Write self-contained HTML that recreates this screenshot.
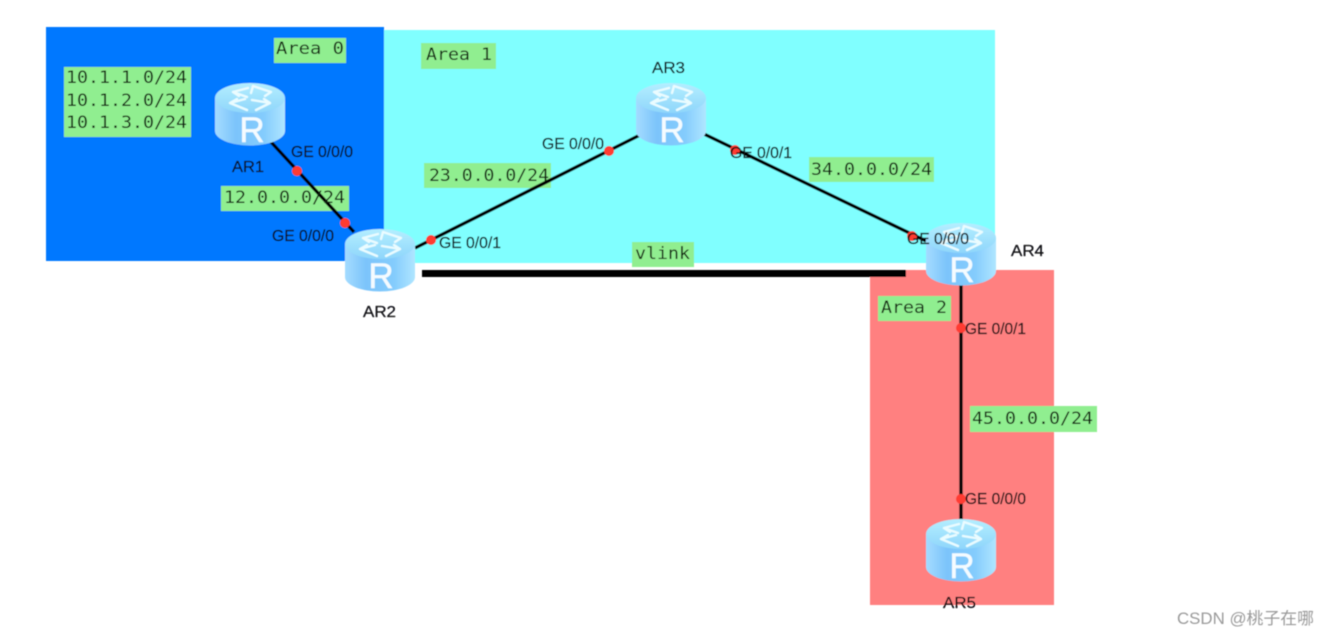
<!DOCTYPE html>
<html lang="zh">
<head>
<meta charset="utf-8">
<title>OSPF vlink diagram</title>
<style>
html,body{margin:0;padding:0;width:1329px;height:637px;overflow:hidden;background:#fff}
svg{display:block}
.m{font-family:"DejaVu Sans Mono","Liberation Mono",monospace;font-size:17px;fill:#10200a}
.a{font-family:"Liberation Sans",Arial,sans-serif;font-size:15.5px;fill:#08080c;stroke:#08080c;stroke-width:.2px}
.r{font-family:"Liberation Sans",Arial,sans-serif;font-size:35px;fill:#f4fbff;stroke:#f4fbff;stroke-width:.5px}
.w{font-family:"Liberation Sans","Noto Sans CJK SC",sans-serif;font-size:16.5px;fill:#9a9a9a}
</style>
</head>
<body>
<svg width="1329" height="637" viewBox="0 0 1329 637" xmlns="http://www.w3.org/2000/svg">
<defs>
<linearGradient id="side" x1="0" x2="1" y1="0" y2="0">
<stop offset="0" stop-color="#a4dcff"/>
<stop offset=".3" stop-color="#7cc4fb"/>
<stop offset=".7" stop-color="#84ccfd"/>
<stop offset="1" stop-color="#b0e6ff"/>
</linearGradient>
<linearGradient id="top" x1="0" x2="0" y1="0" y2="1">
<stop offset="0" stop-color="#b4eeff"/>
<stop offset="1" stop-color="#8fd6fb"/>
</linearGradient>
<g id="router">
<path d="M-35 15V48A35 14.5 0 0 0 35 48V15Z" fill="url(#side)"/>
<ellipse cx="0" cy="15" rx="35" ry="15" fill="url(#top)"/>
<g fill="none" stroke="#eafcff" stroke-width="2.4" stroke-linecap="round" stroke-linejoin="round">
<path d="M-2 5L-17 9L-11 13M-17 9L-3 14"/>
<path d="M3 3L21 9L15 13M3 3L1 10"/>
<path d="M-3 27L-20 20L-13 16M-20 20L-5 16"/>
<path d="M6 27L20 20L14 16M20 20L2 17"/>
</g>
</g>
<filter id="soft" x="-2%" y="-2%" width="104%" height="104%"><feGaussianBlur stdDeviation="0.4"/></filter>
</defs>
<g filter="url(#soft)">
<rect x="384" y="30" width="611" height="233" fill="#80ffff"/>
<rect x="46" y="27" width="338" height="234" fill="#0078ff"/>
<rect x="870" y="270" width="184" height="335" fill="#ff8080"/>

<rect x="274" y="38" width="72" height="25" fill="#90ee90"/>
<rect x="421" y="43" width="75" height="26" fill="#90ee90"/>
<rect x="64" y="67" width="127" height="70" fill="#90ee90"/>
<rect x="221" y="186" width="128" height="25" fill="#90ee90"/>
<rect x="424" y="163" width="127" height="25" fill="#90ee90"/>
<rect x="809" y="157" width="125" height="25" fill="#90ee90"/>
<rect x="632" y="242" width="62" height="25" fill="#90ee90"/>
<rect x="878" y="296" width="73" height="25" fill="#90ee90"/>
<rect x="970" y="406" width="127" height="26" fill="#90ee90"/>

<g stroke="#050505" stroke-width="3.4" fill="none">
<line x1="271" y1="142" x2="354" y2="232"/>
<line x1="415" y1="248" x2="640" y2="135"/>
<line x1="704" y1="134" x2="926" y2="241"/>
<line x1="961" y1="284" x2="961" y2="520"/>
</g>
<rect x="422" y="270" width="484" height="7" fill="#000"/>

<use href="#router" x="250" y="83"/>
<use href="#router" x="380" y="229"/>
<use href="#router" x="671" y="83"/>
<use href="#router" x="961" y="223"/>
<use href="#router" x="961" y="519"/>
<text class="r" x="252" y="142" text-anchor="middle">R</text>
<text class="r" x="381" y="288" text-anchor="middle">R</text>
<text class="r" x="672" y="142" text-anchor="middle">R</text>
<text class="r" x="962" y="282" text-anchor="middle">R</text>
<text class="r" x="962" y="578" text-anchor="middle">R</text>

<g fill="#ff3b30">
<circle cx="297" cy="171" r="5"/>
<circle cx="345" cy="223" r="5"/>
<circle cx="431" cy="240" r="5"/>
<circle cx="609" cy="151" r="5"/>
<circle cx="735" cy="150" r="5"/>
<circle cx="912" cy="236" r="5"/>
<circle cx="961" cy="328" r="5"/>
<circle cx="961" cy="499" r="5"/>
</g>

<text class="m" x="276" y="54" textLength="68" lengthAdjust="spacingAndGlyphs">Area 0</text>
<text class="m" x="426" y="60" textLength="66" lengthAdjust="spacingAndGlyphs">Area 1</text>
<text class="m" x="66" y="83" textLength="121" lengthAdjust="spacingAndGlyphs">10.1.1.0/24</text>
<text class="m" x="66" y="106" textLength="121" lengthAdjust="spacingAndGlyphs">10.1.2.0/24</text>
<text class="m" x="66" y="128" textLength="121" lengthAdjust="spacingAndGlyphs">10.1.3.0/24</text>
<text class="m" x="224" y="203" textLength="121" lengthAdjust="spacingAndGlyphs">12.0.0.0/24</text>
<text class="m" x="429" y="181" textLength="120" lengthAdjust="spacingAndGlyphs">23.0.0.0/24</text>
<text class="m" x="811" y="175" textLength="121" lengthAdjust="spacingAndGlyphs">34.0.0.0/24</text>
<text class="m" x="635" y="259" textLength="55" lengthAdjust="spacingAndGlyphs">vlink</text>
<text class="m" x="881" y="313" textLength="66" lengthAdjust="spacingAndGlyphs">Area 2</text>
<text class="m" x="972" y="424" textLength="121" lengthAdjust="spacingAndGlyphs">45.0.0.0/24</text>

<text class="a" x="291" y="157" textLength="62" lengthAdjust="spacingAndGlyphs">GE 0/0/0</text>
<text class="a" x="272" y="241" textLength="62" lengthAdjust="spacingAndGlyphs">GE 0/0/0</text>
<text class="a" x="439" y="248" textLength="62" lengthAdjust="spacingAndGlyphs">GE 0/0/1</text>
<text class="a" x="542" y="149" textLength="62" lengthAdjust="spacingAndGlyphs">GE 0/0/0</text>
<text class="a" x="730" y="158" textLength="62" lengthAdjust="spacingAndGlyphs">GE 0/0/1</text>
<text class="a" x="907" y="244" textLength="62" lengthAdjust="spacingAndGlyphs">GE 0/0/0</text>
<text class="a" x="965" y="334" textLength="61" lengthAdjust="spacingAndGlyphs">GE 0/0/1</text>
<text class="a" x="965" y="504" textLength="61" lengthAdjust="spacingAndGlyphs">GE 0/0/0</text>

<text class="a" x="232" y="172" textLength="32" lengthAdjust="spacingAndGlyphs">AR1</text>
<text class="a" x="363" y="317" textLength="33" lengthAdjust="spacingAndGlyphs">AR2</text>
<text class="a" x="652" y="73" textLength="33" lengthAdjust="spacingAndGlyphs">AR3</text>
<text class="a" x="1011" y="256" textLength="33" lengthAdjust="spacingAndGlyphs">AR4</text>
<text class="a" x="943" y="608" textLength="33" lengthAdjust="spacingAndGlyphs">AR5</text>

<text class="w" x="1177" y="624" textLength="137" lengthAdjust="spacingAndGlyphs">CSDN @桃子在哪</text>
</g>
</svg>
</body>
</html>
